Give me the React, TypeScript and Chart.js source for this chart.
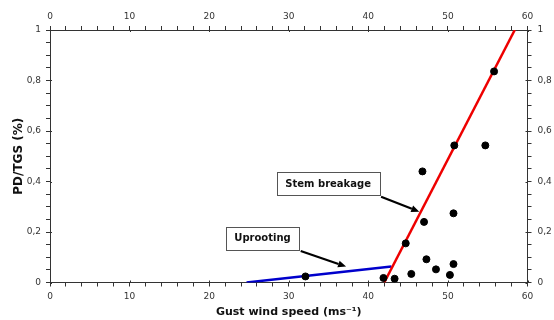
import React, { useEffect, useRef } from 'react';
import { Chart, registerables } from 'chart.js';

Chart.register(...registerables);

// Observed points (gust wind speed, PD/TGS)
const obsSpeed = [32.1, 41.9, 43.3, 44.7, 45.4, 46.8, 47.0, 47.3, 48.5, 50.25, 50.7, 50.7, 50.8, 54.7, 55.8];
const obsRatio = [0.024, 0.018, 0.015, 0.155, 0.034, 0.44, 0.24, 0.092, 0.052, 0.03, 0.274, 0.073, 0.543, 0.543, 0.836];

// Fitted lines
const stemSpeed = [42.0, 58.4];
const stemRatio = [0, 1];
const uprootSpeed = [24.7, 42.9];
const uprootRatio = [0, 0.063];

// Axes
const xMin = 0;
const xMax = 60;
const xMinorStep = 2;
const xMajorStep = 10;
const yMin = 0;
const yMax = 1;
const yMinorStep = 0.05;
const yMajorStep = 0.2;

const xTitle = 'Gust wind speed (ms\u207B\u00B9)';
const yTitle = 'PD/TGS (%)';

// Annotation callouts (box corners and arrow ends in data units)
const calloutTexts = ['Stem breakage', 'Uprooting'];
const calloutBoxes = [
  { x1: 28.5, x2: 41.4, y1: 0.436, y2: 0.343, ax1: 41.6, ay1: 0.340, ax2: 46.4, ay2: 0.280 },
  { x1: 22.1, x2: 31.3, y1: 0.221, y2: 0.129, ax1: 31.5, ay1: 0.125, ax2: 37.2, ay2: 0.063 },
];

const FONT = "'DejaVu Sans', Verdana, sans-serif";

const isMajor = (v: number, step: number) => {
  const q = v / step;
  return Math.abs(q - Math.round(q)) < 1e-6;
};
const fmt = (v: number) => {
  const r = Math.round(v * 100) / 100;
  return String(r).replace('.', ',');
};

const calloutPlugin = {
  id: 'callouts',
  afterDatasetsDraw(chart: any) {
    const ctx = chart.ctx;
    const xs = chart.scales.x;
    const ys = chart.scales.y;
    ctx.save();
    calloutBoxes.forEach((b, i) => {
      const left = xs.getPixelForValue(b.x1);
      const right = xs.getPixelForValue(b.x2);
      const top = ys.getPixelForValue(b.y1);
      const bottom = ys.getPixelForValue(b.y2);
      ctx.fillStyle = '#ffffff';
      ctx.fillRect(left, top, right - left, bottom - top);
      ctx.strokeStyle = '#555555';
      ctx.lineWidth = 1;
      ctx.strokeRect(Math.round(left) + 0.5, Math.round(top) + 0.5, Math.round(right - left), Math.round(bottom - top));
      ctx.fillStyle = '#111111';
      ctx.font = `bold 10px ${FONT}`;
      ctx.textAlign = 'center';
      ctx.textBaseline = 'middle';
      ctx.fillText(calloutTexts[i], (left + right) / 2, (top + bottom) / 2 + 0.5);
      // arrow
      const sx = xs.getPixelForValue(b.ax1);
      const sy = ys.getPixelForValue(b.ay1);
      const ex = xs.getPixelForValue(b.ax2);
      const ey = ys.getPixelForValue(b.ay2);
      const ang = Math.atan2(ey - sy, ex - sx);
      const headLen = 8;
      const headW = 3.5;
      const bx = ex - headLen * Math.cos(ang);
      const by = ey - headLen * Math.sin(ang);
      ctx.strokeStyle = '#000000';
      ctx.lineWidth = 2.2;
      ctx.beginPath();
      ctx.moveTo(sx, sy);
      ctx.lineTo(bx, by);
      ctx.stroke();
      ctx.fillStyle = '#000000';
      ctx.beginPath();
      ctx.moveTo(ex, ey);
      ctx.lineTo(bx + headW * Math.sin(ang), by - headW * Math.cos(ang));
      ctx.lineTo(bx - headW * Math.sin(ang), by + headW * Math.cos(ang));
      ctx.closePath();
      ctx.fill();
    });
    ctx.restore();
  },
  afterDraw(chart: any) {
    // major ticks extend slightly into the plot
    const ctx = chart.ctx;
    const a = chart.chartArea;
    ctx.save();
    ctx.strokeStyle = '#333333';
    ctx.lineWidth = 1;
    ctx.beginPath();
    for (let v = xMin; v <= xMax + 1e-9; v += xMajorStep) {
      const px = Math.round(chart.scales.x.getPixelForValue(v)) + 0.5;
      ctx.moveTo(px, a.bottom);
      ctx.lineTo(px, a.bottom - 2);
      ctx.moveTo(px, a.top);
      ctx.lineTo(px, a.top + 2);
    }
    for (let k = 0; k <= Math.round((yMax - yMin) / yMajorStep); k++) {
      const v = yMin + k * yMajorStep;
      const py = Math.round(chart.scales.y.getPixelForValue(v)) + 0.5;
      ctx.moveTo(a.left, py);
      ctx.lineTo(a.left + 2, py);
      ctx.moveTo(a.right, py);
      ctx.lineTo(a.right - 2, py);
    }
    ctx.stroke();
    ctx.restore();
  },
};

export default function App() {
  const ref = useRef<HTMLCanvasElement>(null);

  useEffect(() => {
    document.body.style.margin = '0';
    const canvas = ref.current;
    if (!canvas) return;

    const gridOpts = {
      drawOnChartArea: false,
      drawTicks: true,
      tickLength: 4,
      color: '#333333',
    };
    const borderOpts = { display: true, color: '#333333', width: 1 };
    const tickFont = { family: FONT, size: 9 };
    const xTicks = {
      stepSize: xMinorStep,
      autoSkip: false,
      maxRotation: 0,
      color: '#333333',
      font: tickFont,
      callback: (v: any) => (isMajor(Number(v), xMajorStep) ? String(v) : ''),
    };
    const yTicks = {
      stepSize: yMinorStep,
      autoSkip: false,
      color: '#333333',
      font: tickFont,
      callback: (v: any) => (isMajor(Number(v), yMajorStep) ? fmt(Number(v)) : ''),
    };

    const chart = new Chart(canvas, {
      type: 'scatter',
      data: {
        datasets: [
          {
            label: 'Observed',
            data: obsSpeed.map((x, i) => ({ x, y: obsRatio[i] })),
            backgroundColor: '#000000',
            borderColor: '#000000',
            pointRadius: 3.5,
            showLine: false,
            order: 0,
          },
          {
            label: 'Stem breakage',
            data: stemSpeed.map((x, i) => ({ x, y: stemRatio[i] })),
            borderColor: '#ee0000',
            borderWidth: 2.5,
            pointRadius: 0,
            showLine: true,
            order: 1,
          },
          {
            label: 'Uprooting',
            data: uprootSpeed.map((x, i) => ({ x, y: uprootRatio[i] })),
            borderColor: '#0000cc',
            borderWidth: 2.5,
            pointRadius: 0,
            showLine: true,
            order: 1,
          },
        ],
      },
      options: {
        responsive: false,
        animation: false,
        devicePixelRatio: 1,
        layout: { padding: 0 },
        plugins: {
          legend: { display: false },
          tooltip: { enabled: false },
        },
        scales: {
          x: {
            type: 'linear',
            position: 'bottom',
            min: xMin,
            max: xMax,
            grid: gridOpts,
            border: borderOpts,
            ticks: { ...xTicks, padding: 5 },
            title: {
              display: true,
              text: xTitle,
              color: '#111111',
              font: { family: FONT, size: 11, weight: 'bold' },
              padding: { top: 0, bottom: 1 },
            },
            afterFit: (s: any) => { s.height = 37.5; },
          },
          x2: {
            type: 'linear',
            position: 'top',
            display: true,
            min: xMin,
            max: xMax,
            grid: gridOpts,
            border: borderOpts,
            ticks: { ...xTicks, padding: 4 },
            afterFit: (s: any) => { s.height = 30; },
          },
          y: {
            type: 'linear',
            position: 'left',
            min: yMin,
            max: yMax,
            grid: gridOpts,
            border: borderOpts,
            ticks: { ...yTicks, padding: 5 },
            title: {
              display: true,
              text: yTitle,
              color: '#111111',
              font: { family: FONT, size: 12, weight: 'bold' },
              padding: { top: 12, bottom: 0 },
            },
            afterFit: (s: any) => { s.width = 50; },
          },
          y2: {
            type: 'linear',
            position: 'right',
            display: true,
            min: yMin,
            max: yMax,
            grid: gridOpts,
            border: borderOpts,
            ticks: { ...yTicks, padding: 6 },
            afterFit: (s: any) => { s.width = 26.5; },
          },
        },
      },
      plugins: [calloutPlugin],
    } as any);

    return () => chart.destroy();
  }, []);

  return (
    <div style={{ width: 554, height: 320, background: '#ffffff' }}>
      <canvas ref={ref} width={554} height={320} />
    </div>
  );
}
